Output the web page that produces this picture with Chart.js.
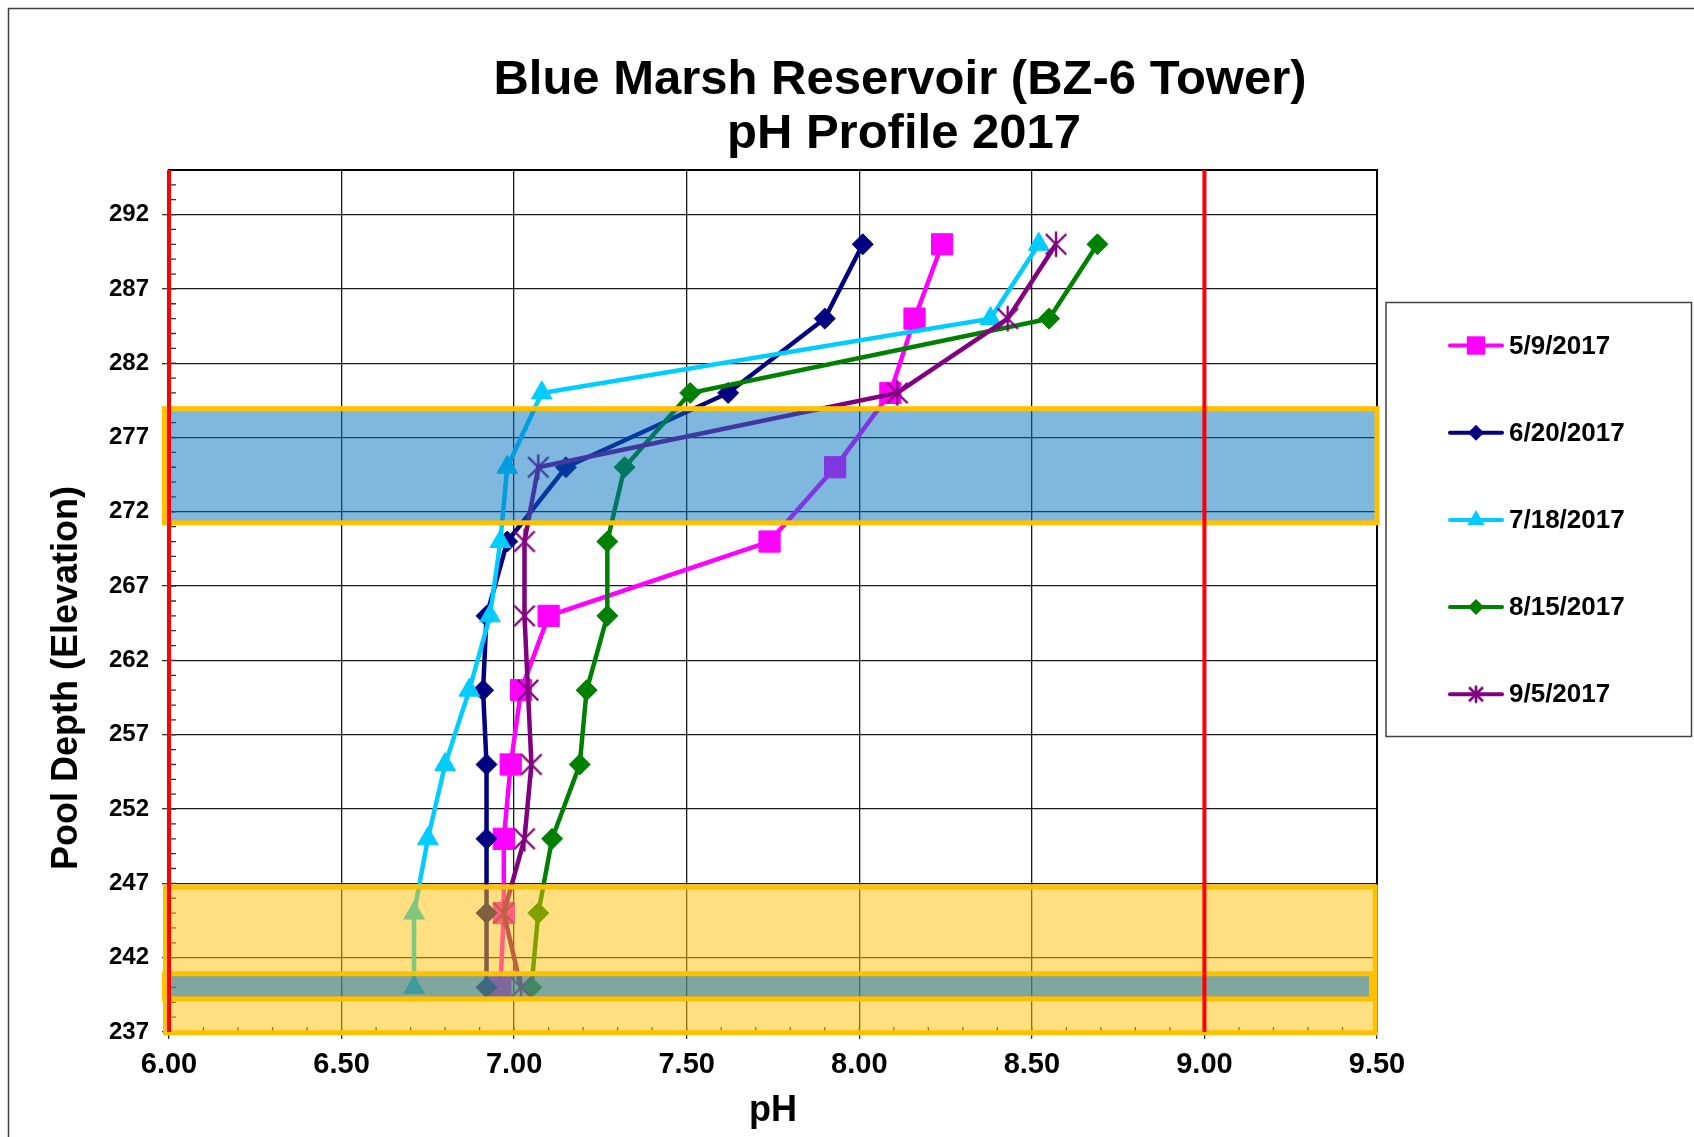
<!DOCTYPE html>
<html>
<head>
<meta charset="utf-8">
<title>Blue Marsh Reservoir (BZ-6 Tower) pH Profile 2017</title>
<script src="https://cdn.jsdelivr.net/npm/chart.js@4.4.0/dist/chart.umd.min.js"></script>
<style>
  html, body { margin: 0; padding: 0; background: #fff; }
  #wrap { width: 1694px; height: 1137px; }
</style>
</head>
<body>
<div id="wrap"><canvas id="myChart" width="1694" height="1137"></canvas></div>
<script>
// Sample elevations (top of profile to bottom)
const elevations = [290, 285, 280, 275, 270, 265, 260, 255, 250, 245, 240];

// pH readings for each sampling date, same order as elevations
const ph0509 = [8.24, 8.16, 8.09, 7.93, 7.74, 7.10, 7.02, 6.99, 6.97, 6.97, 6.96];
const ph0620 = [8.01, 7.90, 7.62, 7.15, 6.98, 6.92, 6.91, 6.92, 6.92, 6.92, 6.92];
const ph0718 = [8.52, 8.38, 7.08, 6.98, 6.96, 6.93, 6.87, 6.80, 6.75, 6.71, 6.71];
const ph0815 = [8.69, 8.55, 7.51, 7.32, 7.27, 7.27, 7.21, 7.19, 7.11, 7.07, 7.05];
const ph0905 = [8.57, 8.43, 8.11, 7.07, 7.03, 7.03, 7.04, 7.05, 7.03, 6.97, 7.02];

const seriesLabels = ["5/9/2017", "6/20/2017", "7/18/2017", "8/15/2017", "9/5/2017"];

// Axis ticks
const xTicks = [6.0, 6.5, 7.0, 7.5, 8.0, 8.5, 9.0, 9.5];
const yTicks = [237, 242, 247, 252, 257, 262, 267, 272, 277, 282, 287, 292];

// pH limit lines
const phLimits = [6.0, 9.0];

// Shaded zones: [pH from, pH to] and [elevation from, elevation to]
const blueBandPh = [5.987, 9.5];
const blueBandElev = [271.26, 278.94];
const yellowBandPh = [5.99, 9.495];
const yellowBandElev = [236.95, 246.76];
const intakeBandPh = [5.987, 9.484];
const intakeBandElev = [239.23, 240.92];

const fontFamily = "'Liberation Sans', Arial, Helvetica, sans-serif";

// Excel style star marker (x with a vertical bar)
let makeStar = (size, color, lw) => {
    let c = document.createElement("canvas");
    c.width = size;
    c.height = size;
    let g = c.getContext("2d");
    let h = size / 2;
    let r = h - lw / 2;
    g.strokeStyle = color;
    g.lineWidth = lw;
    g.beginPath();
    g.moveTo(h - r * 0.8, h - r * 0.8);
    g.lineTo(h + r * 0.8, h + r * 0.8);
    g.moveTo(h + r * 0.8, h - r * 0.8);
    g.lineTo(h - r * 0.8, h + r * 0.8);
    g.moveTo(h, h - r);
    g.lineTo(h, h + r);
    g.stroke();
    return c;
};

const starChart = makeStar(28, "#800080", 2.4);
const starLegend = makeStar(20, "#800080", 2.6);

let toPoints = (values) => values.map((v, i) => ({ x: v, y: elevations[i] }));

let makeSeries = (label, values, color, style, radius, order) => ({
    label: label,
    data: toPoints(values),
    showLine: true,
    borderColor: color,
    backgroundColor: color,
    borderWidth: 4.5,
    pointStyle: style,
    pointRadius: radius,
    pointBackgroundColor: color,
    pointBorderColor: color,
    pointBorderWidth: 1,
    order: order
});

const datasets = [
    makeSeries(seriesLabels[0], ph0509, "#FF00FF", "rect", 15, 4),
    makeSeries(seriesLabels[1], ph0620, "#000080", "rectRot", 10.5, 3),
    makeSeries(seriesLabels[2], ph0718, "#00CCFF", "triangle", 12, 2),
    makeSeries(seriesLabels[3], ph0815, "#008000", "rectRot", 10.5, 1),
    makeSeries(seriesLabels[4], ph0905, "#800080", starChart, 12, 0)
];
const legendStyles = ["rect", "rectRot", "triangle", "rectRot", starLegend];
const legendRadius = [13, 8, 10, 8, 10];

// Small marker painter for the legend
let drawMarker = (ctx, style, r, x, y) => {
    if (style instanceof HTMLCanvasElement) {
        ctx.drawImage(style, x - style.width / 2, y - style.height / 2);
        return;
    }
    ctx.beginPath();
    if (style === "rect") {
        let s = r * Math.SQRT1_2;
        ctx.rect(x - s, y - s, 2 * s, 2 * s);
    } else if (style === "rectRot") {
        ctx.moveTo(x - r, y);
        ctx.lineTo(x, y - r);
        ctx.lineTo(x + r, y);
        ctx.lineTo(x, y + r);
        ctx.closePath();
    } else if (style === "triangle") {
        ctx.moveTo(x, y - r);
        ctx.lineTo(x + r * 0.866, y + r * 0.5);
        ctx.lineTo(x - r * 0.866, y + r * 0.5);
        ctx.closePath();
    }
    ctx.fill();
};

// Extra drawing: minor ticks, zones, limit lines, titles and legend
const overlayPlugin = {
    id: "overlay",
    beforeDatasetsDraw(chart) {
        let ctx = chart.ctx;
        let area = chart.chartArea;
        let xs = chart.scales.x;
        let ys = chart.scales.y;
        ctx.save();
        ctx.strokeStyle = "#333";
        ctx.lineWidth = 1.3;
        ctx.beginPath();
        for (let i = 1; i < 35; i++) {
            let x = xs.getPixelForValue(6 + i / 10);
            ctx.moveTo(x, area.bottom);
            ctx.lineTo(x, area.bottom - 5);
        }
        for (let v = ys.min + 1; v < ys.max; v++) {
            let y = ys.getPixelForValue(v);
            ctx.moveTo(area.left, y);
            ctx.lineTo(area.left + 7, y);
        }
        ctx.stroke();
        ctx.restore();
    },
    afterDatasetsDraw(chart) {
        let ctx = chart.ctx;
        let area = chart.chartArea;
        let xs = chart.scales.x;
        let ys = chart.scales.y;
        ctx.save();

        // plot frame top and right
        ctx.strokeStyle = "#000";
        ctx.lineWidth = 2;
        ctx.beginPath();
        ctx.moveTo(area.left, area.top);
        ctx.lineTo(area.right, area.top);
        ctx.lineTo(area.right, area.bottom);
        ctx.stroke();

        let band = (phRange, elevRange, fill) => {
            let x0 = xs.getPixelForValue(phRange[0]);
            let x1 = xs.getPixelForValue(phRange[1]);
            let y0 = ys.getPixelForValue(elevRange[1]);
            let y1 = ys.getPixelForValue(elevRange[0]);
            ctx.fillStyle = fill;
            ctx.fillRect(x0, y0, x1 - x0, y1 - y0);
            ctx.strokeStyle = "#FFC000";
            ctx.lineWidth = 5;
            ctx.strokeRect(x0, y0, x1 - x0, y1 - y0);
        };
        band(blueBandPh, blueBandElev, "rgba(0, 112, 192, 0.5)");
        band(yellowBandPh, yellowBandElev, "rgba(255, 192, 0, 0.5)");
        band(intakeBandPh, intakeBandElev, "rgba(0, 112, 192, 0.5)");

        // limit lines
        ctx.strokeStyle = "#FF0000";
        ctx.lineWidth = 4;
        ctx.beginPath();
        phLimits.forEach((v) => {
            let x = xs.getPixelForValue(v);
            ctx.moveTo(x, area.top);
            ctx.lineTo(x, area.bottom);
        });
        ctx.stroke();
        ctx.restore();
    },
    afterDraw(chart) {
        let ctx = chart.ctx;
        ctx.save();

        // outer frame (only left and top edges are inside the picture)
        ctx.strokeStyle = "#404040";
        ctx.lineWidth = 1.5;
        ctx.beginPath();
        ctx.moveTo(8.5, chart.height);
        ctx.lineTo(8.5, 8.5);
        ctx.lineTo(chart.width, 8.5);
        ctx.stroke();

        // chart title
        ctx.fillStyle = "#000";
        ctx.textAlign = "center";
        ctx.textBaseline = "middle";
        ctx.font = "bold 49px " + fontFamily;
        ctx.fillText("Blue Marsh Reservoir (BZ-6 Tower)", 900, 80);
        ctx.fillText("pH Profile 2017", 904, 134);

        // y axis title
        ctx.save();
        ctx.translate(67, 678);
        ctx.rotate(-Math.PI / 2);
        ctx.font = "bold 36px " + fontFamily;
        ctx.fillText("Pool Depth (Elevation)", 0, 0);
        ctx.restore();

        // legend
        ctx.strokeStyle = "#404040";
        ctx.lineWidth = 1.5;
        ctx.strokeRect(1386, 302.5, 305.5, 434);
        ctx.font = "bold 26px " + fontFamily;
        ctx.textAlign = "left";
        chart.data.datasets.forEach((ds, i) => {
            let y = 345.5 + i * 87.2;
            ctx.strokeStyle = ds.borderColor;
            ctx.lineWidth = 4;
            ctx.lineCap = "round";
            ctx.beginPath();
            ctx.moveTo(1450, y);
            ctx.lineTo(1502, y);
            ctx.stroke();
            ctx.fillStyle = ds.borderColor;
            drawMarker(ctx, legendStyles[i], legendRadius[i], 1476, y);
            ctx.fillStyle = "#000";
            ctx.fillText(ds.label, 1509, y + 1);
        });
        ctx.restore();
    }
};

Chart.defaults.font.family = fontFamily;
Chart.defaults.color = "#000";

const ctx = document.getElementById("myChart").getContext("2d");
let myChart = new Chart(ctx, {
    type: "scatter",
    data: { datasets: datasets },
    options: {
        responsive: false,
        devicePixelRatio: 1,
        animation: false,
        layout: { padding: { left: 0, right: 317, top: 170, bottom: 0 } },
        plugins: {
            legend: { display: false },
            title: { display: false },
            tooltip: { enabled: false }
        },
        scales: {
            x: {
                type: "linear",
                min: 6,
                max: 9.5,
                afterBuildTicks: (scale) => {
                    scale.ticks = xTicks.map((v) => ({ value: v }));
                },
                afterFit: (scale) => {
                    scale.height = 105;
                },
                ticks: {
                    padding: 9,
                    font: { size: 29, weight: "bold" },
                    callback: (v) => Number(v).toFixed(2)
                },
                grid: { color: "#1a1a1a", lineWidth: 1.3, tickLength: 7, tickColor: "#333" },
                border: { display: true, color: "#000", width: 2 },
                title: {
                    display: true,
                    text: "pH",
                    font: { size: 36, weight: "bold" },
                    padding: { top: 0, bottom: 4 }
                }
            },
            y: {
                type: "linear",
                min: 237,
                max: 295,
                afterBuildTicks: (scale) => {
                    scale.ticks = yTicks.map((v) => ({ value: v }));
                },
                afterFit: (scale) => {
                    scale.width = 169;
                },
                ticks: {
                    padding: 13,
                    font: { size: 24, weight: "bold" }
                },
                grid: { color: "#1a1a1a", lineWidth: 1.3, tickLength: 7, tickColor: "#333" },
                border: { display: true, color: "#000", width: 2 }
            }
        }
    },
    plugins: [overlayPlugin]
});
</script>
</body>
</html>
